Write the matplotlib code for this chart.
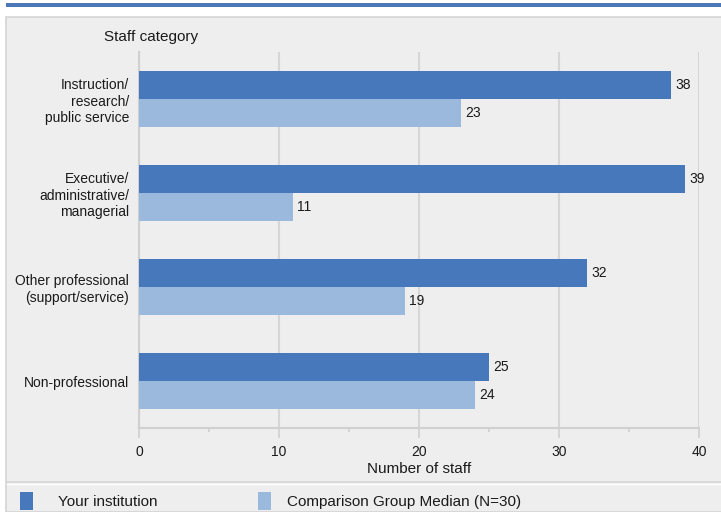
import numpy as np
import matplotlib.pyplot as plt
from matplotlib.patches import Rectangle
from matplotlib.lines import Line2D

plt.rcParams['font.family'] = ['Liberation Sans', 'DejaVu Sans']

categories = ['Instruction/\nresearch/\npublic service',
              'Executive/\nadministrative/\nmanagerial',
              'Other professional\n(support/service)',
              'Non-professional']
institution = [38, 39, 32, 25]
comparison = [23, 11, 19, 24]
series_names = ['Your institution', 'Comparison Group Median (N=30)']

DARK = '#4878bc'
LIGHT = '#9bb9dd'
BG = '#eeeeee'

W, H = 721, 512
fig = plt.figure(figsize=(W / 100, H / 100), dpi=100)
fig.patch.set_facecolor('white')

# panel and top strip
fig.add_artist(Rectangle((6 / W, 0), 1, 1 - 17 / H, transform=fig.transFigure,
                         facecolor=BG, edgecolor='#d4d4d4', lw=1.2, zorder=0))
fig.add_artist(Rectangle((6 / W, 1 - 7 / H), 1, 4 / H, transform=fig.transFigure,
                         facecolor='#4a78b8', edgecolor='none', zorder=0))
fig.add_artist(Line2D([7 / W, 1], [1 - 482 / H] * 2, transform=fig.transFigure,
                      color='#d6d6d6', lw=1.2))
fig.add_artist(Line2D([7 / W, 1], [1 - 483.5 / H] * 2, transform=fig.transFigure,
                      color='white', lw=1))

ax = fig.add_axes([139 / W, 1 - 428 / H, 560 / W, 376 / H])
ax.set_facecolor(BG)

y = np.arange(len(categories))
h = 0.3
b1 = ax.barh(y - h / 2, institution, height=h, color=DARK, zorder=3)
b2 = ax.barh(y + h / 2, comparison, height=h, color=LIGHT, zorder=3)

for bars, vals in ((b1, institution), (b2, comparison)):
    for bar, v in zip(bars, vals):
        ax.text(v + 0.3, bar.get_y() + bar.get_height() / 2, str(v),
                va='center', ha='left', fontsize=10, color='#1a1a1a')

ax.set_xlim(0, 40)
ax.set_ylim(len(categories) - 0.5, -0.5)
ax.set_xticks([0, 10, 20, 30, 40])
ax.set_xticks([5, 15, 25, 35], minor=True)
ax.set_yticks(y)
ax.set_yticklabels(categories, multialignment='right')
ax.tick_params(axis='y', length=0, pad=7, labelsize=10, labelcolor='#1a1a1a')
ax.tick_params(axis='x', which='major', length=7, width=1.2, color='#d0d0d0',
               pad=5, labelsize=10, labelcolor='#1a1a1a')
ax.tick_params(axis='x', which='minor', length=3, width=1.2, color='#d0d0d0')
ax.grid(axis='x', color='#d6d6d6', lw=1.5, zorder=0)
for s in ('top', 'right'):
    ax.spines[s].set_visible(False)
ax.spines['left'].set_color('#d0d0d0')
ax.spines['left'].set_linewidth(1.5)
ax.spines['bottom'].set_color('#d0d0d0')
ax.spines['bottom'].set_linewidth(1.5)

fig.text(419 / W, 1 - 469 / H, 'Number of staff', fontsize=11,
         color='#1a1a1a', va='center', ha='center')
fig.text(104 / W, 1 - 37 / H, 'Staff category', fontsize=11, color='#1a1a1a',
         va='center', ha='left')

# legend
for xs, xt, c, name in ((20, 58, DARK, series_names[0]),
                        (258, 287, LIGHT, series_names[1])):
    fig.add_artist(Rectangle((xs / W, 1 - 510 / H), 13 / W, 18 / H,
                             transform=fig.transFigure, facecolor=c,
                             edgecolor='none'))
    fig.text(xt / W, 1 - 502 / H, name, fontsize=11, color='#1a1a1a',
             va='center', ha='left')

fig.savefig('out.png', dpi=100, facecolor='white')
